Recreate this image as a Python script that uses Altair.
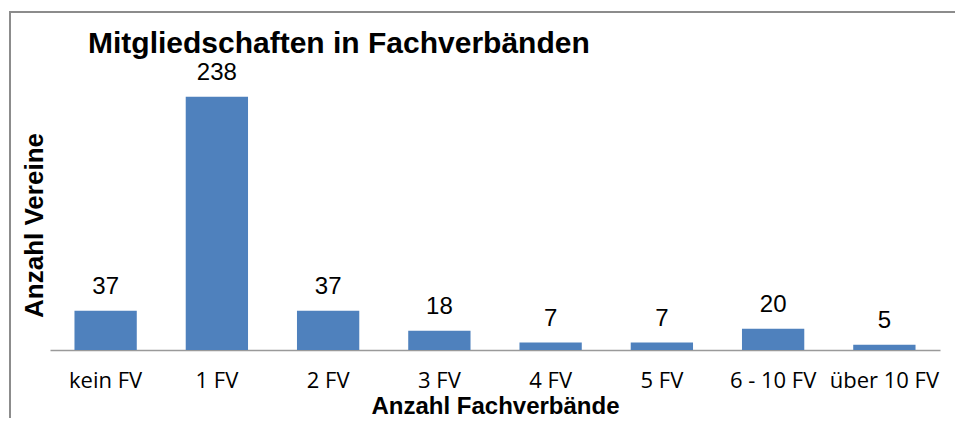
import altair as alt
import pandas as pd

categories = ["kein FV", "1 FV", "2 FV", "3 FV", "4 FV", "5 FV", "6 - 10 FV", "über 10 FV"]
values = [37, 238, 37, 18, 7, 7, 20, 5]
chart_title = "Mitgliedschaften in Fachverbänden"
x_title = "Anzahl Fachverbände"
y_title = "Anzahl Vereine"

df = pd.DataFrame({"cat": categories, "val": values})

W, H = 890, 266

x_enc = alt.X(
    "cat:N",
    sort=categories,
    scale=alt.Scale(paddingInner=0.44, paddingOuter=0.22),
    axis=alt.Axis(
        title=x_title,
        titleFont="Liberation Sans",
        titleFontSize=24,
        titleFontWeight="bold",
        titleColor="black",
        titleBaseline="alphabetic",
        titleY=63,
        labelAngle=0,
        labelFont="Open Sans",
        labelFontSize=22,
        labelColor="black",
        labelBaseline="alphabetic",
        labelPadding=37,
        labelOverlap=False,
        labelBound=False,
        labelFlush=False,
        ticks=False,
        tickSize=0,
        domainColor="#9a9a9a",
        domainWidth=1.5,
        grid=False,
    ),
)
y_enc = alt.Y(
    "val:Q",
    scale=alt.Scale(domain=[0, 250], nice=False),
    axis=alt.Axis(
        title=y_title,
        titleFont="Liberation Sans",
        titleFontSize=26,
        titleFontWeight="bold",
        titleColor="black",
        titleBaseline="alphabetic",
        titleX=-8,
        titleY=141,
        titleAngle=270,
        labels=False,
        ticks=False,
        domain=False,
        grid=False,
    ),
)

base = alt.Chart(df)

bars = base.mark_bar(color="#4F81BD").encode(x=x_enc, y=y_enc)

labels = base.mark_text(
    font="Liberation Sans", fontSize=24, color="black", baseline="alphabetic", dy=-17
).encode(x=alt.X("cat:N", sort=categories), y="val:Q", text="val:Q")

title_df = pd.DataFrame({"t": [chart_title]})
title_mark = alt.Chart(title_df).mark_text(
    font="Liberation Sans", fontSize=30, fontWeight="bold", color="black",
    align="left", baseline="alphabetic"
).encode(x=alt.value(38), y=alt.value(-31), text="t:N")

border = alt.Chart(pd.DataFrame({"b": [0]})).mark_rect(
    fill=None, fillOpacity=0, stroke="#8c8c8c", strokeWidth=2
).encode(x=alt.value(-40), x2=alt.value(1100), y=alt.value(-72), y2=alt.value(600))

chart = alt.layer(border, bars, labels, title_mark).properties(
    width=W,
    height=H,
    autosize="none",
    background="white",
    padding={"left": 42, "top": 76, "right": 15, "bottom": 68},
).configure_view(strokeWidth=0, stroke="transparent")

chart.save("out.html", embed_options={"renderer": "svg", "actions": False})
